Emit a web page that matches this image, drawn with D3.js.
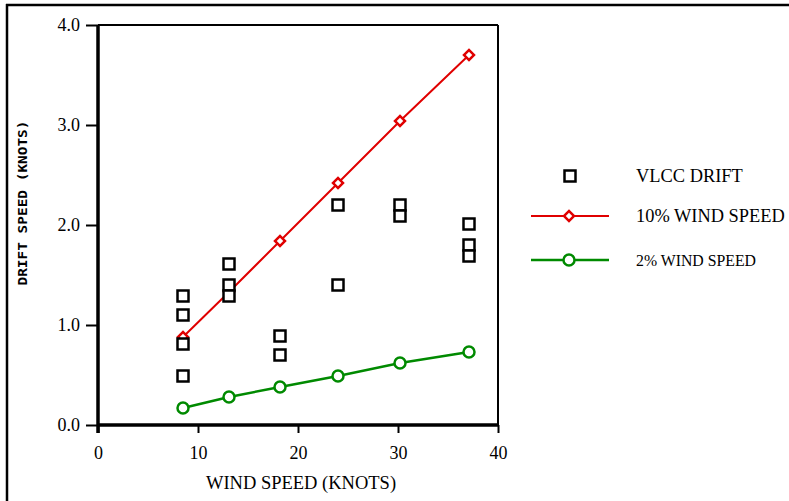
<!DOCTYPE html>
<html><head><meta charset="utf-8">
<script src="https://cdn.jsdelivr.net/npm/d3@7"></script>
<style>body{margin:0;background:#fff}svg{display:block}</style>
</head><body>
<svg id="c" width="789" height="501"></svg>
<script>
const vlccX = [8.5,8.5,8.5,8.5,13.1,13.1,13.1,18.2,18.2,24,24,30.2,30.2,37.1,37.1,37.1];
const vlccY = [1.29,1.10,0.81,0.49,1.61,1.40,1.29,0.89,0.70,2.20,1.40,2.20,2.09,2.01,1.80,1.69];
const windX = [8.5,13.1,18.2,24,30.2,37.1];
const tenPct = [0.88,1.33,1.84,2.42,3.04,3.70];
const twoPct = [0.17,0.28,0.38,0.49,0.62,0.73];
const xTicks = [0,10,20,30,40];
const yTicks = [0,1,2,3,4];
const legendLabels = ["VLCC DRIFT","10% WIND SPEED","2% WIND SPEED"];

const svg = d3.select("#c");
const font = "'Liberation Serif','Times New Roman',serif";
const L=98,R=498,T=25,B=425;
const x = d3.scaleLinear().domain([0,40]).range([L,R]);
const y = d3.scaleLinear().domain([0,4]).range([B,T]);

// outer frame (top & left)
svg.append("line").attr("x1",6).attr("x2",789).attr("y1",5).attr("y2",5).attr("stroke","#000").attr("stroke-width",2.5);
svg.append("line").attr("x1",7).attr("x2",7).attr("y1",4).attr("y2",501).attr("stroke","#000").attr("stroke-width",2.5);

// plot box top/right
svg.append("line").attr("x1",L).attr("x2",R).attr("y1",T).attr("y2",T).attr("stroke","#000").attr("stroke-width",2);
svg.append("line").attr("x1",R).attr("x2",R).attr("y1",T).attr("y2",B).attr("stroke","#000").attr("stroke-width",2);

// axes
const gx = svg.append("g").attr("transform",`translate(0,${B})`)
  .call(d3.axisBottom(x).tickValues(xTicks).tickSize(8).tickPadding(13).tickFormat(d3.format("d")));
const gy = svg.append("g").attr("transform",`translate(${L},0)`)
  .call(d3.axisLeft(y).tickValues(yTicks).tickSize(12).tickPadding(6).tickFormat(d3.format(".1f")));
[gx,gy].forEach(g=>{
  g.select(".domain").attr("stroke","#000").attr("stroke-width",3.5);
  g.selectAll(".tick line").attr("stroke","#000").attr("stroke-width",2);
  g.selectAll(".tick text").attr("font-family",font).attr("font-size",18).attr("fill","#000");
});
gx.select(".domain").attr("d",`M${L},0H${R}`);
gy.select(".domain").attr("d",`M0,${B+8}V${T}`);

// titles
svg.append("text").attr("x",301).attr("y",489).attr("text-anchor","middle")
  .attr("font-family",font).attr("font-size",18.5).text("WIND SPEED (KNOTS)");
svg.append("text").attr("transform","translate(27,203) rotate(-90)").attr("text-anchor","middle")
  .attr("font-family","'DejaVu Sans Mono',monospace").attr("font-weight","bold").attr("font-size",12)
  .attr("textLength",165).attr("lengthAdjust","spacingAndGlyphs").text("DRIFT SPEED (KNOTS)");

// lines
const line = d3.line().x((d,i)=>x(windX[i])).y(d=>y(d));
svg.append("path").attr("d",line(tenPct)).attr("fill","none").attr("stroke","#e00000").attr("stroke-width",2);
svg.append("path").attr("d",line(twoPct)).attr("fill","none").attr("stroke","#008a00").attr("stroke-width",2.5);

const diamond = d3.symbol().type(d3.symbolSquare).size(50);
svg.selectAll(".dm").data(tenPct).join("path")
  .attr("d",diamond).attr("transform",(d,i)=>`translate(${x(windX[i])},${y(d)}) rotate(45)`)
  .attr("fill","#fff").attr("stroke","#e00000").attr("stroke-width",2.5);
svg.selectAll(".cc").data(twoPct).join("circle")
  .attr("cx",(d,i)=>x(windX[i])).attr("cy",d=>y(d)).attr("r",5.5)
  .attr("fill","#fff").attr("stroke","#008a00").attr("stroke-width",2.5);

// VLCC squares
svg.selectAll(".sq").data(vlccY).join("rect")
  .attr("x",(d,i)=>x(vlccX[i])-5.5).attr("y",d=>y(d)-5.5).attr("width",11).attr("height",11)
  .attr("fill","#fff").attr("stroke","#000").attr("stroke-width",2.5);

// legend
const lg = svg.append("g");
lg.append("rect").attr("x",564.5).attr("y",170.5).attr("width",11).attr("height",11)
  .attr("fill","#fff").attr("stroke","#000").attr("stroke-width",2.5);
lg.append("line").attr("x1",531).attr("x2",609).attr("y1",216).attr("y2",216).attr("stroke","#e00000").attr("stroke-width",2);
lg.append("path").attr("d",diamond).attr("transform","translate(569,216) rotate(45)")
  .attr("fill","#fff").attr("stroke","#e00000").attr("stroke-width",2.5);
lg.append("line").attr("x1",531).attr("x2",609).attr("y1",260).attr("y2",260).attr("stroke","#008a00").attr("stroke-width",2.5);
lg.append("circle").attr("cx",569).attr("cy",260).attr("r",5.5).attr("fill","#fff").attr("stroke","#008a00").attr("stroke-width",2.5);
const ly=[176,216,260], ls=[18.4,18.4,15.8];
lg.selectAll("text").data(legendLabels).join("text")
  .attr("x",636).attr("y",(d,i)=>ly[i]).attr("dy","0.35em")
  .attr("font-family",font).attr("font-size",(d,i)=>ls[i]).text(d=>d);
</script>
</body></html>
